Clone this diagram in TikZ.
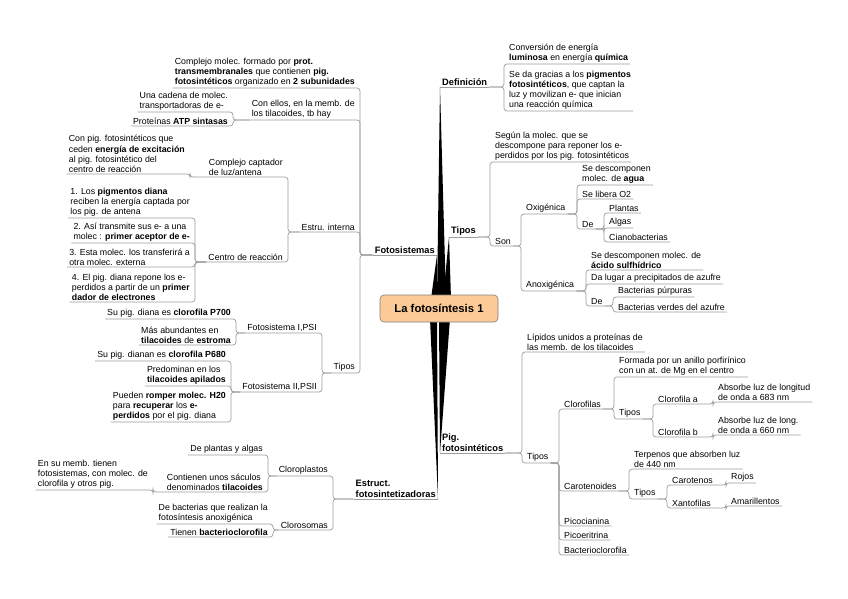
\documentclass[tikz,border=0pt]{standalone}
\usepackage{fontspec}
\setmainfont{Liberation Sans}
\usetikzlibrary{backgrounds}
\definecolor{mmline}{HTML}{9C9C9C}
\definecolor{mmorange}{HTML}{FCCA96}
\definecolor{mmborder}{HTML}{808080}

\begin{document}
\begin{tikzpicture}[x=1pt, y=-1pt,
        leaf/.style={inner xsep=2pt, inner ysep=1.2pt, align=left, font=\fontsize{8.8}{10.2}\selectfont},
        topic/.style={leaf, font=\fontsize{9.3}{11.5}\selectfont\bfseries},
        rootnode/.style={draw=mmborder, fill=mmorange, rounded corners=4pt, line width=0.6pt,
                         minimum width=118pt, minimum height=27pt, font=\fontsize{11.3}{13}\selectfont\bfseries},
        link/.style={draw=mmline, line width=0.7pt, rounded corners=3pt},
        spoke/.style={fill=black}
      ]
        \useasboundingbox (0,0) rectangle (848,599);

        \node[rootnode] (root) at (439,308.5) {La fotosíntesis 1};

        % main topics
        \node[topic, anchor=south west] (def)   at (440,87)  {Definición};
        \node[topic, anchor=south west] (tipos) at (449,237) {Tipos};
        \node[topic, anchor=south west] (pig)   at (440,453) {Pig.\\fotosintéticos};
        \node[topic, anchor=south east] (foto)  at (437,255) {Fotosistemas};
        \node[topic, anchor=south east] (est)   at (438,499) {Estruct.\\fotosintetizadoras};

        \begin{scope}[on background layer]
          \fill[spoke] ([xshift=-2pt,yshift=-4pt]root.north) -- (def.south west)   -- ([xshift=7pt,yshift=-4pt]root.north) -- cycle;
          \fill[spoke] ([xshift=4pt,yshift=-4pt]root.north)  -- (tipos.south west) -- ([xshift=12pt,yshift=-4pt]root.north) -- cycle;
          \fill[spoke] ([xshift=-8pt,yshift=-4pt]root.north) -- (foto.south east)  -- ([xshift=-2pt,yshift=-4pt]root.north) -- cycle;
          \fill[spoke] ([xshift=0pt,yshift=4pt]root.south)   -- (pig.south west)   -- ([xshift=11pt,yshift=4pt]root.south) -- cycle;
          \fill[spoke] ([xshift=-9pt,yshift=4pt]root.south)  -- (est.south east)   -- ([xshift=-2pt,yshift=4pt]root.south) -- cycle;
        \end{scope}
        \foreach \t in {def,tipos,pig,foto,est}
          \draw[link] (\t.south west) -- (\t.south east);

        % Definicion
        \node[leaf, anchor=south west] (def1) at (507,64)  {Conversión de energía\\\textbf{luminosa} en energía \textbf{química}};
        \node[leaf, anchor=south west] (def2) at (507,111) {Se da gracias a los \textbf{pigmentos}\\\textbf{fotosintéticos}, que captan la\\luz y movilizan e- que inician\\una reacción química};
        \foreach \c in {def1,def2}
          \draw[link] (def.south east) -| ([xshift=-3pt]\c.south west) -- (\c.south east);

        % Tipos
        \node[leaf, anchor=south west] (seg)  at (493,162) {Según la molec. que se\\descompone para reponer los e-\\perdidos por los pig. fotosintéticos};
        \node[leaf, anchor=south west] (son)  at (493,246) {Son};
        \node[leaf, anchor=south west] (oxi)  at (524,214) {Oxigénica};
        \node[leaf, anchor=south west] (anox) at (524,291) {Anoxigénica};
        \node[leaf, anchor=south west] (oxa)  at (580,185) {Se descomponen\\molec. de \textbf{agua}};
        \node[leaf, anchor=south west] (oxb)  at (580,199) {Se libera O2};
        \node[leaf, anchor=south west] (oxde) at (580,229) {De};
        \node[leaf, anchor=south west] (plan) at (607,213) {Plantas};
        \node[leaf, anchor=south west] (alg)  at (607,228) {Algas};
        \node[leaf, anchor=south west] (cian) at (607,242) {Cianobacterias};
        \node[leaf, anchor=south west] (ana)  at (589,270) {Se descomponen molec. de\\\textbf{ácido sulfhídrico}};
        \node[leaf, anchor=south west] (anb)  at (589,284) {Da lugar a precipitados de azufre};
        \node[leaf, anchor=south west] (ande) at (589,306) {De};
        \node[leaf, anchor=south west] (bpur) at (616,297) {Bacterias púrpuras};
        \node[leaf, anchor=south west] (bver) at (616,312) {Bacterias verdes del azufre};
        \foreach \p/\c in {tipos/seg,tipos/son,son/oxi,son/anox,oxi/oxa,oxi/oxb,oxi/oxde,
                           oxde/plan,oxde/alg,oxde/cian,anox/ana,anox/anb,anox/ande,ande/bpur,ande/bver}
          \draw[link] (\p.south east) -| ([xshift=-3pt]\c.south west) -- (\c.south east);

        % Pig. fotosinteticos
        \node[leaf, anchor=south west] (lip)  at (525,352) {Lípidos unidos a proteínas de\\las memb. de los tilacoides};
        \node[leaf, anchor=south west] (ptip) at (525,463) {Tipos};
        \node[leaf, anchor=south west] (clf)  at (562,409) {Clorofilas};
        \node[leaf, anchor=south west] (car)  at (562,491) {Carotenoides};
        \node[leaf, anchor=south west] (pcc)  at (562,526) {Picocianina};
        \node[leaf, anchor=south west] (pce)  at (562,540) {Picoeritrina};
        \node[leaf, anchor=south west] (bcl)  at (562,555) {Bacterioclorofila};
        \node[leaf, anchor=south west] (form) at (617,377) {Formada por un anillo porfirínico\\con un at. de Mg en el centro};
        \node[leaf, anchor=south west] (ctip) at (617,419) {Tipos};
        \node[leaf, anchor=south west] (cla)  at (656,404) {Clorofila a};
        \node[leaf, anchor=south west] (clb)  at (656,437) {Clorofila b};
        \node[leaf, anchor=south west] (absa) at (716,402) {Absorbe luz de longitud\\de onda a 683 nm};
        \node[leaf, anchor=south west] (absb) at (716,435) {Absorbe luz de long.\\de onda a 660 nm};
        \node[leaf, anchor=south west] (terp) at (632,469) {Terpenos que absorben luz\\de 440 nm};
        \node[leaf, anchor=south west] (rtip) at (632,499) {Tipos};
        \node[leaf, anchor=south west] (crt)  at (670,485) {Carotenos};
        \node[leaf, anchor=south west] (xan)  at (670,508) {Xantofilas};
        \node[leaf, anchor=south west] (roj)  at (729,483) {Rojos};
        \node[leaf, anchor=south west] (ama)  at (729,506) {Amarillentos};
        \foreach \p/\c in {pig/lip,pig/ptip,ptip/clf,ptip/car,ptip/pcc,ptip/pce,ptip/bcl,clf/form,clf/ctip,
                           ctip/cla,ctip/clb,cla/absa,clb/absb,car/terp,car/rtip,rtip/crt,rtip/xan,crt/roj,xan/ama}
          \draw[link] (\p.south east) -| ([xshift=-3pt]\c.south west) -- (\c.south east);

        % Fotosistemas
        \node[leaf, anchor=south east] (cmp)  at (357,88)  {Complejo molec. formado por \textbf{prot.}\\\textbf{transmembranales} que contienen \textbf{pig.}\\\textbf{fotosintéticos} organizado en \textbf{2 subunidades}};
        \node[leaf, anchor=south east] (con)  at (357,120) {Con ellos, en la memb. de\\los tilacoides, tb hay};
        \node[leaf, anchor=south east] (estr) at (357,232) {Estru. interna};
        \node[leaf, anchor=south east] (ftip) at (357,373) {Tipos};
        \node[leaf, anchor=south east] (cad)  at (230,112) {Una cadena de molec.\\transportadoras de e-};
        \node[leaf, anchor=south east] (atp)  at (230,126) {Proteínas \textbf{ATP sintasas}};
        \node[leaf, anchor=south east] (capt) at (285,177) {Complejo captador\\de luz/antena};
        \node[leaf, anchor=south east] (cent) at (285,262) {Centro de reacción};
        \node[leaf, anchor=south east] (cpig) at (187,174) {Con pig. fotosintéticos que\\ceden \textbf{energía de excitación}\\al pig. fotosintético del\\centro de reacción};
        \node[leaf, anchor=south east] (ca)   at (192,218) {1. Los \textbf{pigmentos diana}\\reciben la energía captada por\\los pig. de antena};
        \node[leaf, anchor=south east] (cb)   at (192,243) {2. Así transmite sus e- a una\\molec : \textbf{primer aceptor de e-}};
        \node[leaf, anchor=south east] (cc)   at (192,267) {3. Esta molec. los transferirá a\\otra molec. externa};
        \node[leaf, anchor=south east] (cd)   at (192,302) {4. El pig. diana repone los e-\\perdidos a partir de un \textbf{primer}\\\textbf{dador de electrones}};
        \node[leaf, anchor=south east] (ps1)  at (319,333) {Fotosistema I,PSI};
        \node[leaf, anchor=south east] (ps2)  at (319,392) {Fotosistema II,PSII};
        \node[leaf, anchor=south east] (p700) at (233,319) {Su pig. diana es \textbf{clorofila P700}};
        \node[leaf, anchor=south east] (abu)  at (233,345) {Más abundantes en\\\textbf{tilacoides} de \textbf{estroma}};
        \node[leaf, anchor=south east] (p680) at (228,361) {Su pig. dianan es \textbf{clorofila P680}};
        \node[leaf, anchor=south east] (pre)  at (228,386) {Predominan en los\\\textbf{tilacoides apilados}};
        \node[leaf, anchor=south east] (rom)  at (228,422) {Pueden \textbf{romper molec. H20}\\para \textbf{recuperar} los \textbf{e-}\\\textbf{perdidos} por el pig. diana};
        \foreach \p/\c in {foto/cmp,foto/con,foto/estr,foto/ftip,con/cad,con/atp,estr/capt,estr/cent,capt/cpig,
                           cent/ca,cent/cb,cent/cc,cent/cd,ftip/ps1,ftip/ps2,ps1/p700,ps1/abu,ps2/p680,ps2/pre,ps2/rom}
          \draw[link] (\p.south west) -| ([xshift=3pt]\c.south east) -- (\c.south west);

        % Estruct. fotosintetizadoras
        \node[leaf, anchor=south east] (clp)  at (330,476) {Cloroplastos};
        \node[leaf, anchor=south east] (cls)  at (330,530) {Clorosomas};
        \node[leaf, anchor=south east] (dpl)  at (265,455) {De plantas y algas};
        \node[leaf, anchor=south east] (cont) at (265,492) {Contienen unos sáculos\\denominados \textbf{tilacoides}};
        \node[leaf, anchor=south east] (memb) at (150,490) {En su memb. tienen\\fotosistemas, con molec. de\\clorofila y otros pig.};
        \node[leaf, anchor=south east] (dbac) at (270,524) {De bacterias que realizan la\\fotosíntesis anoxigénica};
        \node[leaf, anchor=south east] (tbac) at (270,537) {Tienen \textbf{bacterioclorofila}};
        \foreach \p/\c in {est/clp,est/cls,clp/dpl,clp/cont,cont/memb,cls/dbac,cls/tbac}
          \draw[link] (\p.south west) -| ([xshift=3pt]\c.south east) -- (\c.south west);
      \end{tikzpicture}
\end{document}
